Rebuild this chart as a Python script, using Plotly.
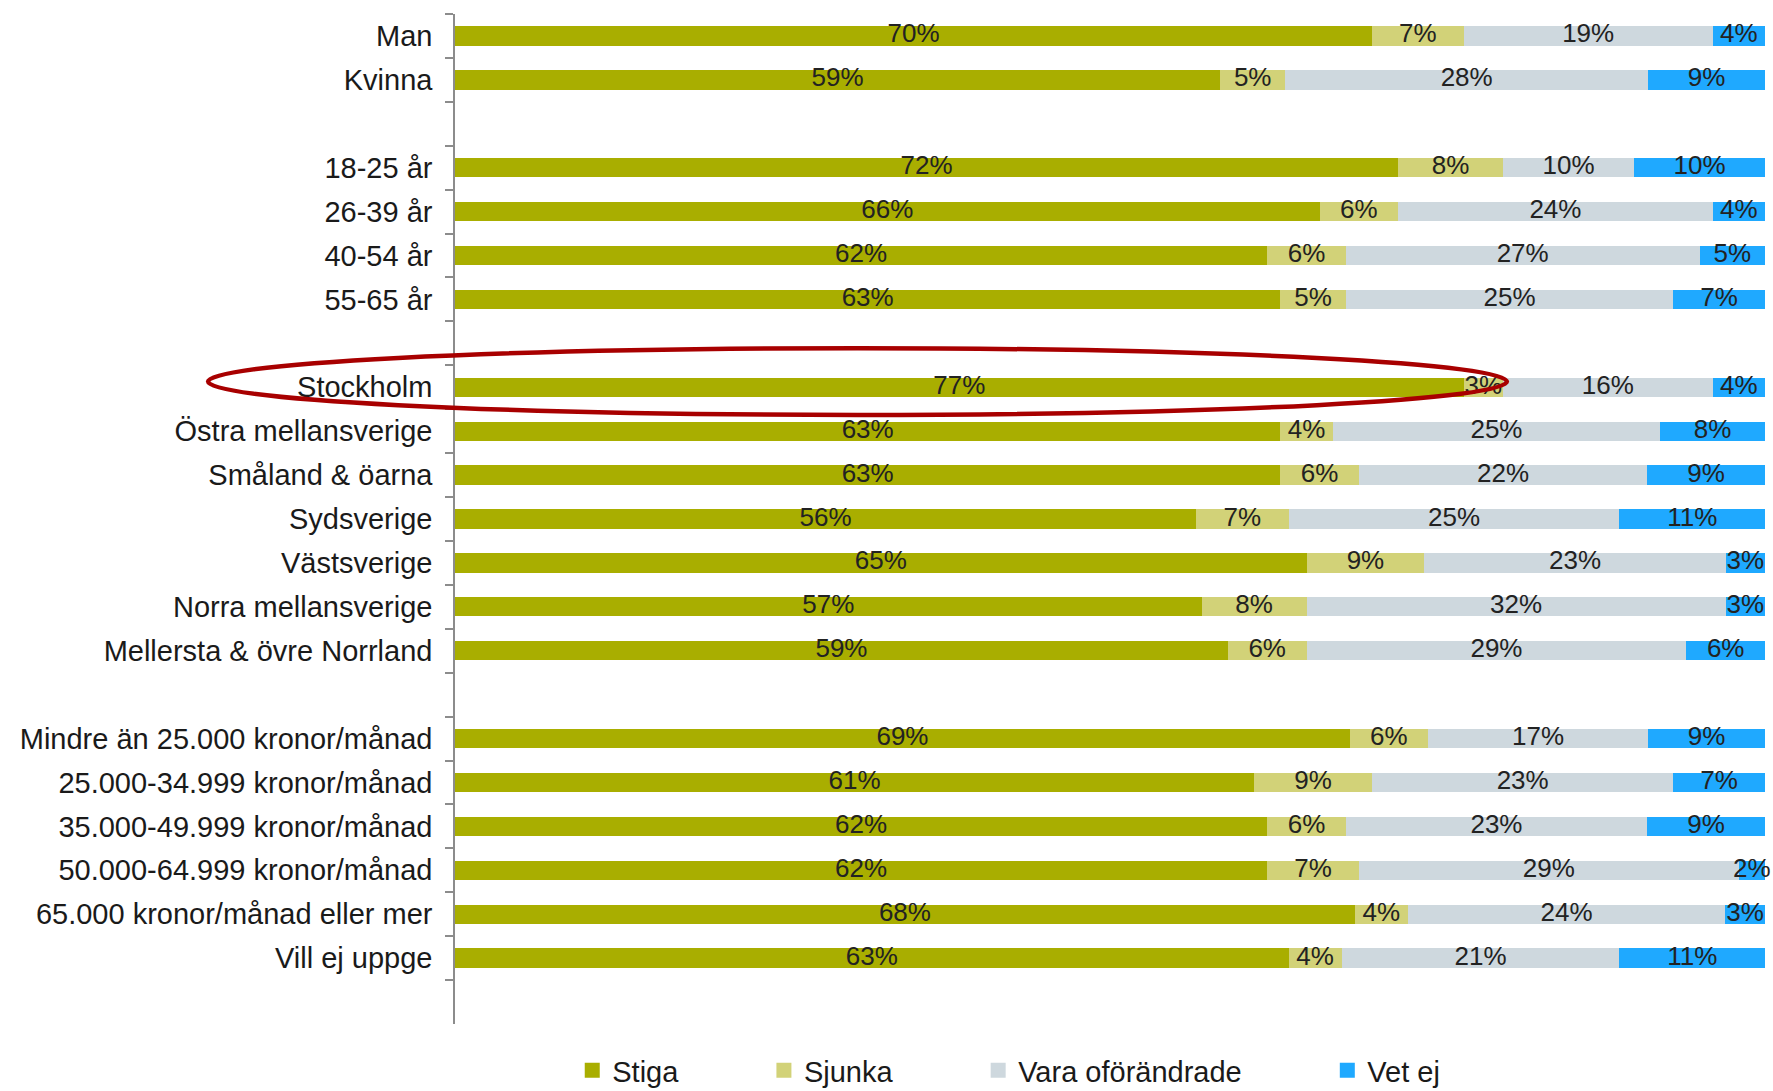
import plotly.graph_objects as go

# ---------------- data ----------------
categories = [
    "Man", "Kvinna", " ",
    "18-25 år", "26-39 år", "40-54 år", "55-65 år", "  ",
    "Stockholm", "Östra mellansverige", "Småland & öarna", "Sydsverige",
    "Västsverige", "Norra mellansverige", "Mellersta & övre Norrland", "   ",
    "Mindre än 25.000 kronor/månad", "25.000-34.999 kronor/månad",
    "35.000-49.999 kronor/månad", "50.000-64.999 kronor/månad",
    "65.000 kronor/månad eller mer", "Vill ej uppge", "    ",
]
stiga = [70, 59, None, 72, 66, 62, 63, None, 77, 63, 63, 56, 65, 57, 59, None, 69, 61, 62, 62, 68, 63, None]
sjunka = [7, 5, None, 8, 6, 6, 5, None, 3, 4, 6, 7, 9, 8, 6, None, 6, 9, 6, 7, 4, 4, None]
vara = [19, 28, None, 10, 24, 27, 25, None, 16, 25, 22, 25, 23, 32, 29, None, 17, 23, 23, 29, 24, 21, None]
vet_ej = [4, 9, None, 10, 4, 5, 7, None, 4, 8, 9, 11, 3, 3, 6, None, 9, 7, 9, 2, 3, 11, None]

series_names = ["Stiga", "Sjunka", "Vara oförändrade", "Vet ej"]
series_values = [stiga, sjunka, vara, vet_ej]
series_colors = ["#A9AE00", "#D2D278", "#CED8DE", "#1FA9FF"]

highlight = "Stockholm"

FONT = "Liberation Sans, Arial, sans-serif"

# ---------------- figure ----------------
fig = go.Figure()
for name, vals, col in zip(series_names, series_values, series_colors):
    fig.add_trace(go.Bar(
        y=categories, x=vals, name=name, orientation="h",
        marker=dict(color=col, line=dict(width=0)),
        hoverinfo="skip", showlegend=False,
    ))

# label positions from normalised cumulative sums
for k in range(len(series_names)):
    xs, ys, ts = [], [], []
    for j, cat in enumerate(categories):
        if series_values[k][j] is None:
            continue
        total = sum(series_values[m][j] for m in range(len(series_names)))
        start = sum(series_values[m][j] for m in range(k)) / total
        width = series_values[k][j] / total
        xs.append(start + width / 2)
        ys.append(cat)
        ts.append(f"{series_values[k][j]}%")
    fig.add_trace(go.Scatter(
        x=xs, y=ys, text=ts, mode="text", showlegend=False,
        textfont=dict(size=26, color="#222222", family=FONT),
        textposition="middle center", hoverinfo="skip", cliponaxis=False,
    ))

# legend entries (square swatches)
PAD = "\u00a0" * 10
for i, (name, col) in enumerate(zip(series_names, series_colors)):
    fig.add_trace(go.Scatter(
        x=[None], y=[None], mode="markers",
        name=name + (PAD if i < len(series_names) - 1 else ""),
        marker=dict(symbol="square", size=15, color=col),
        showlegend=True, hoverinfo="skip",
    ))

# highlight ellipse (paper coordinates derived from the category slot)
n = len(categories)
hi = categories.index(highlight)
def slot_to_paper(pos):
    return 1 - (pos + 0.5) / n
fig.add_shape(
    type="circle", xref="paper", yref="paper",
    x0=-0.1885, x1=0.803,
    y0=slot_to_paper(hi + 0.63), y1=slot_to_paper(hi - 0.89),
    line=dict(color="#A80000", width=4.5), fillcolor="rgba(0,0,0,0)",
)

fig.update_layout(
    width=1773, height=1091,
    margin=dict(l=455, r=8, t=14, b=67, autoexpand=False),
    barmode="stack", barnorm="fraction", bargap=0.56,
    plot_bgcolor="white", paper_bgcolor="white",
    font=dict(family=FONT, size=29, color="#1a1a1a"),
    showlegend=True,
    legend=dict(
        orientation="h", x=0.0895, xanchor="left", y=-0.046, yanchor="middle",
        font=dict(size=29, color="#1a1a1a", family=FONT), traceorder="normal",
        bgcolor="rgba(0,0,0,0)",
    ),
    xaxis=dict(range=[0, 1], visible=False, fixedrange=True),
    yaxis=dict(
        categoryorder="array", categoryarray=categories,
        range=[n - 0.5, -0.5],
        showline=True, linecolor="#8C8C8C", linewidth=1.5,
        ticks="outside", ticklen=8, tickcolor="#8C8C8C", tickwidth=1.5,
        tickson="boundaries", showgrid=False, zeroline=False,
        tickfont=dict(size=29, color="#1a1a1a", family=FONT),
        ticklabelstandoff=15, fixedrange=True,
    ),
)

fig.write_html("out.html", config={"displayModeBar": False},
               post_script="document.body.style.margin='0';")
